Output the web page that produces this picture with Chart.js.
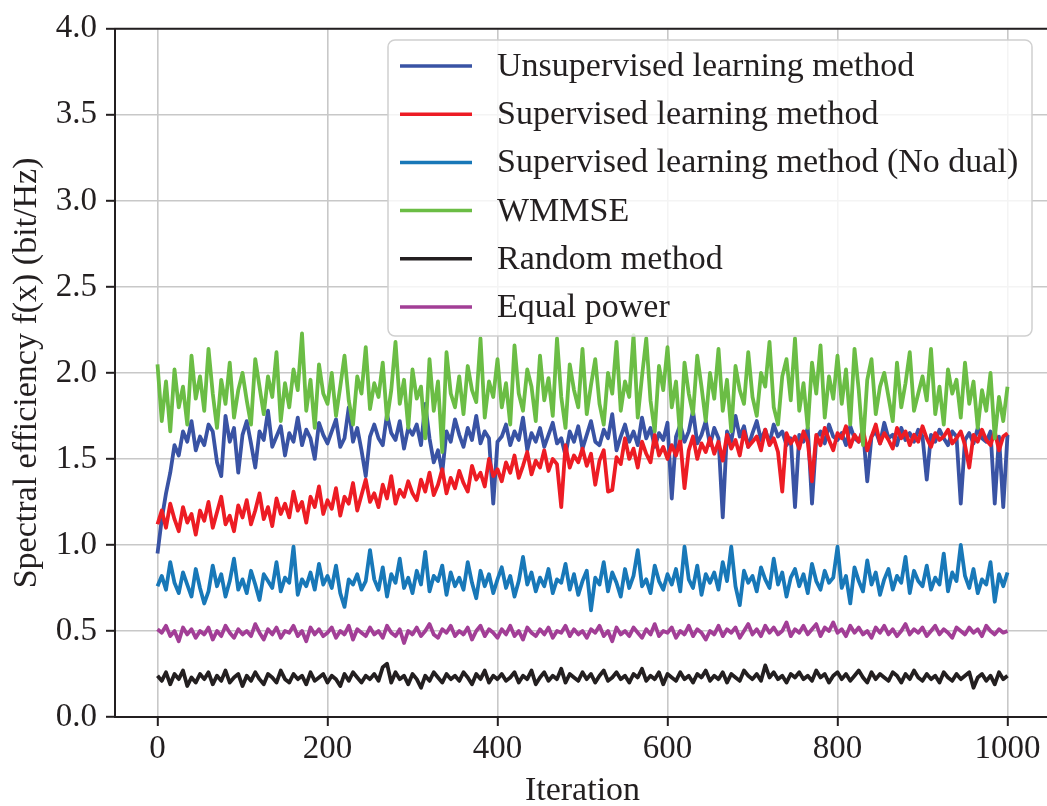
<!DOCTYPE html>
<html>
<head>
<meta charset="utf-8">
<script src="https://cdn.jsdelivr.net/npm/chart.js@4.4.0/dist/chart.umd.min.js"></script>
<style>
  html, body { margin: 0; padding: 0; background: #fff; overflow: hidden; }
  #wrap { width: 1050px; height: 806px; }
</style>
</head>
<body>
<div id="wrap"><canvas id="chart" width="1050" height="806"></canvas></div>
<script>
// sample spacing of the curves (iterations between points)
const step = 5;

const xTicks = [0, 200, 400, 600, 800, 1000];
const yTicks = [0, 0.5, 1, 1.5, 2, 2.5, 3, 3.5, 4];

const seriesNames = [
    'Unsupervised learning method',
    'Supervised learning method',
    'Supervised learning method (No dual)',
    'WMMSE',
    'Random method',
    'Equal power'
];

const seriesColors = ['#3953a4', '#ed1c24', '#1878b8', '#6bbd45', '#231f20', '#a23e96'];

const unsupervised = [
    0.95,1.15,1.30,1.42,1.58,1.52,1.66,1.60,1.72,1.55,1.63,
    1.58,1.70,1.66,1.48,1.40,1.75,1.60,1.68,1.42,1.64,
    1.72,1.59,1.45,1.66,1.61,1.78,1.57,1.63,1.69,1.52,
    1.65,1.60,1.74,1.58,1.67,1.62,1.50,1.71,1.64,1.59,
    1.66,1.73,1.57,1.62,1.80,1.60,1.68,1.55,1.40,1.63,
    1.70,1.62,1.58,1.76,1.65,1.61,1.72,1.56,1.68,1.64,
    1.70,1.58,1.82,1.62,1.48,1.55,1.42,1.66,1.60,1.73,
    1.64,1.57,1.68,1.61,1.75,1.59,1.66,1.62,1.24,1.60,
    1.63,1.70,1.58,1.66,1.61,1.74,1.55,1.65,1.60,1.68,
    1.57,1.64,1.71,1.59,1.62,1.52,1.66,1.60,1.69,1.56,
    1.64,1.72,1.60,1.58,1.67,1.62,1.76,1.55,1.63,1.70,
    1.60,1.66,1.58,1.74,1.62,1.68,1.57,1.65,1.61,1.71,
    1.27,1.63,1.70,1.60,1.66,1.78,1.59,1.64,1.72,1.58,
    1.68,1.62,1.16,1.66,1.60,1.75,1.63,1.69,1.57,1.65,
    1.72,1.61,1.67,1.59,1.70,1.63,1.66,1.58,1.62,1.22,
    1.64,1.60,1.68,1.24,1.62,1.66,1.59,1.70,1.63,1.61,
    1.65,1.58,1.69,1.62,1.60,1.67,1.37,1.63,1.66,1.59,
    1.71,1.62,1.64,1.58,1.68,1.61,1.65,1.60,1.67,1.63,
    1.38,1.64,1.60,1.67,1.62,1.58,1.66,1.63,1.24,1.61,
    1.65,1.59,1.68,1.62,1.60,1.66,1.24,1.63,1.22,1.64
];

const supervised = [
    1.12,1.20,1.10,1.24,1.15,1.08,1.22,1.13,1.18,1.06,1.20,
    1.14,1.25,1.10,1.19,1.28,1.12,1.17,1.08,1.23,1.16,
    1.26,1.12,1.20,1.30,1.15,1.22,1.11,1.27,1.18,1.24,
    1.16,1.31,1.20,1.25,1.13,1.28,1.22,1.34,1.18,1.26,
    1.21,1.33,1.17,1.28,1.24,1.36,1.20,1.29,1.38,1.25,
    1.30,1.22,1.35,1.27,1.40,1.24,1.32,1.28,1.37,1.30,
    1.26,1.38,1.31,1.42,1.29,1.35,1.44,1.30,1.39,1.33,
    1.43,1.36,1.31,1.46,1.38,1.42,1.34,1.50,1.40,1.44,
    1.37,1.48,1.42,1.52,1.39,1.46,1.54,1.41,1.49,1.45,
    1.55,1.43,1.50,1.47,1.22,1.58,1.45,1.52,1.48,1.56,
    1.46,1.53,1.35,1.49,1.55,1.31,1.32,1.51,1.47,1.62,
    1.50,1.56,1.45,1.60,1.53,1.48,1.64,1.52,1.57,1.50,
    1.58,1.52,1.61,1.33,1.55,1.63,1.50,1.59,1.54,1.62,
    1.53,1.60,1.49,1.64,1.56,1.61,1.52,1.66,1.57,1.60,
    1.63,1.55,1.67,1.58,1.62,1.54,1.31,1.65,1.59,1.63,
    1.56,1.66,1.60,1.37,1.64,1.58,1.68,1.61,1.55,1.65,
    1.62,1.69,1.57,1.64,1.60,1.67,1.55,1.63,1.70,1.59,
    1.65,1.61,1.56,1.68,1.62,1.66,1.58,1.64,1.60,1.69,
    1.62,1.57,1.65,1.61,1.63,1.67,1.59,1.62,1.66,1.58,
    1.45,1.64,1.60,1.67,1.61,1.58,1.66,1.55,1.63,1.65
];

const noDual = [
    0.76,0.82,0.74,0.90,0.78,0.72,0.84,0.77,0.70,0.86,0.75,
    0.66,0.73,0.88,0.76,0.83,0.70,0.79,0.92,0.74,0.80,
    0.72,0.85,0.77,0.68,0.83,0.79,0.75,0.90,0.73,0.81,
    0.78,0.99,0.71,0.80,0.76,0.84,0.74,0.89,0.77,0.82,
    0.75,0.88,0.72,0.64,0.80,0.77,0.83,0.74,0.79,0.97,
    0.80,0.74,0.87,0.70,0.83,0.78,0.92,0.75,0.81,0.72,
    0.85,0.77,0.96,0.73,0.82,0.79,0.88,0.71,0.84,0.76,
    0.81,0.74,0.90,0.78,0.69,0.85,0.76,0.83,0.72,0.80,
    0.87,0.75,0.82,0.70,0.79,0.93,0.77,0.84,0.73,0.81,
    0.76,0.86,0.72,0.80,0.78,0.89,0.74,0.83,0.71,0.79,
    0.85,0.62,0.81,0.77,0.90,0.73,0.84,0.78,0.70,0.86,
    0.75,0.82,0.97,0.76,0.80,0.72,0.88,0.79,0.74,0.83,
    0.77,0.86,0.73,0.99,0.80,0.75,0.88,0.71,0.83,0.78,
    0.84,0.74,0.90,0.79,0.99,0.76,0.65,0.85,0.78,0.82,
    0.73,0.87,0.80,0.75,0.92,0.77,0.84,0.70,0.81,0.86,
    0.76,0.83,0.72,0.89,0.79,0.74,0.85,0.78,0.81,0.99,
    0.75,0.82,0.66,0.87,0.79,0.73,0.91,0.77,0.84,0.71,
    0.80,0.86,0.74,0.82,0.78,0.93,0.72,0.85,0.79,0.76,
    0.88,0.74,0.81,0.77,0.95,0.73,0.84,0.79,1.00,0.82,
    0.75,0.86,0.72,0.80,0.77,0.90,0.67,0.83,0.76,0.84
];

const wmmse = [
    2.05,1.72,1.95,1.66,2.02,1.80,1.92,1.70,2.10,1.85,1.98,
    1.78,2.14,1.88,1.68,1.96,1.82,2.06,1.74,1.90,2.00,
    1.84,1.70,2.08,1.92,1.76,1.98,1.86,2.12,1.72,1.94,
    1.80,2.02,1.90,2.23,1.78,1.96,1.68,2.05,1.88,1.82,
    2.00,1.75,1.92,2.10,1.84,1.70,1.98,1.88,2.15,1.79,
    1.94,1.86,2.06,1.73,1.90,2.18,1.82,1.96,1.68,2.02,
    1.85,1.92,1.62,2.08,1.78,1.95,1.54,2.12,1.88,1.80,
    1.98,1.76,2.04,1.90,1.83,2.20,1.74,1.95,1.86,2.08,
    1.80,1.94,1.70,2.16,1.88,1.78,2.02,1.92,1.72,2.10,
    1.84,1.97,1.75,2.20,1.86,1.68,2.05,1.90,1.80,2.14,
    1.76,1.93,2.08,1.82,1.70,2.00,1.88,2.18,1.78,1.95,
    1.86,2.22,1.74,1.98,2.20,1.84,1.66,2.04,1.90,2.15,
    1.80,1.95,1.62,2.06,1.88,1.76,2.10,1.92,1.72,2.00,
    1.85,2.14,1.78,1.96,1.66,2.04,1.90,1.82,2.12,1.86,
    1.75,2.00,1.92,2.18,1.80,1.70,1.98,2.08,1.84,2.20,
    1.78,1.94,1.68,2.06,1.88,2.16,1.74,1.98,1.85,2.10,
    1.82,2.02,1.70,2.14,1.90,1.58,1.96,2.08,1.76,1.92,
    2.00,1.86,1.72,2.06,1.80,1.94,2.12,1.78,1.88,1.98,
    1.84,2.14,1.76,1.92,1.70,2.02,1.88,1.96,1.74,2.06,
    1.82,1.95,1.68,1.90,1.78,2.00,1.62,1.86,1.72,1.92
];

const randomMethod = [
    0.24,0.21,0.26,0.19,0.25,0.22,0.27,0.18,0.23,0.20,0.25,
    0.22,0.26,0.19,0.24,0.21,0.27,0.20,0.23,0.25,0.18,
    0.24,0.21,0.26,0.22,0.19,0.25,0.23,0.20,0.27,0.22,
    0.20,0.25,0.22,0.24,0.19,0.26,0.21,0.23,0.25,0.20,
    0.24,0.22,0.18,0.25,0.21,0.26,0.23,0.20,0.24,0.22,
    0.25,0.21,0.29,0.31,0.20,0.26,0.22,0.24,0.19,0.25,
    0.22,0.17,0.24,0.21,0.26,0.23,0.20,0.25,0.22,0.24,
    0.21,0.26,0.23,0.19,0.25,0.22,0.27,0.20,0.24,0.22,
    0.25,0.21,0.23,0.26,0.20,0.24,0.22,0.27,0.19,0.23,
    0.26,0.21,0.24,0.22,0.28,0.20,0.25,0.23,0.21,0.26,
    0.22,0.25,0.20,0.24,0.27,0.21,0.23,0.26,0.22,0.24,
    0.20,0.25,0.23,0.28,0.21,0.24,0.22,0.26,0.19,0.25,
    0.23,0.21,0.26,0.22,0.24,0.20,0.25,0.23,0.27,0.21,
    0.24,0.22,0.26,0.20,0.25,0.23,0.21,0.27,0.24,0.22,
    0.25,0.21,0.30,0.23,0.26,0.22,0.24,0.20,0.25,0.23,
    0.26,0.22,0.24,0.21,0.27,0.23,0.25,0.20,0.24,0.26,
    0.22,0.25,0.21,0.24,0.27,0.23,0.20,0.26,0.22,0.25,
    0.23,0.21,0.26,0.24,0.20,0.25,0.22,0.27,0.23,0.21,
    0.25,0.22,0.24,0.20,0.26,0.23,0.21,0.25,0.22,0.24,
    0.26,0.17,0.23,0.25,0.21,0.24,0.19,0.26,0.22,0.24
];

const equalPower = [
    0.51,0.49,0.53,0.47,0.50,0.44,0.52,0.48,0.51,0.46,0.50,
    0.48,0.52,0.45,0.50,0.47,0.53,0.49,0.46,0.51,0.48,
    0.50,0.47,0.54,0.49,0.45,0.51,0.48,0.52,0.46,0.50,
    0.49,0.53,0.47,0.50,0.44,0.52,0.48,0.51,0.47,0.49,
    0.52,0.46,0.50,0.48,0.53,0.45,0.51,0.49,0.47,0.52,
    0.48,0.50,0.46,0.53,0.49,0.47,0.51,0.43,0.50,0.48,
    0.52,0.47,0.50,0.54,0.48,0.46,0.51,0.49,0.53,0.47,
    0.50,0.48,0.52,0.45,0.50,0.53,0.47,0.51,0.49,0.46,
    0.51,0.48,0.53,0.47,0.50,0.45,0.52,0.49,0.47,0.51,
    0.48,0.52,0.46,0.50,0.49,0.53,0.47,0.51,0.48,0.50,
    0.46,0.51,0.49,0.53,0.47,0.50,0.44,0.52,0.48,0.50,
    0.47,0.52,0.49,0.46,0.51,0.48,0.54,0.47,0.50,0.49,
    0.52,0.46,0.50,0.48,0.53,0.47,0.51,0.49,0.45,0.50,
    0.48,0.53,0.47,0.51,0.49,0.52,0.46,0.50,0.54,0.48,
    0.51,0.47,0.53,0.49,0.52,0.48,0.50,0.55,0.47,0.51,
    0.49,0.53,0.48,0.51,0.54,0.47,0.52,0.50,0.55,0.49,
    0.51,0.47,0.53,0.49,0.52,0.48,0.50,0.46,0.52,0.49,
    0.53,0.48,0.51,0.47,0.50,0.54,0.48,0.51,0.49,0.52,
    0.47,0.50,0.53,0.48,0.51,0.49,0.46,0.52,0.50,0.48,
    0.52,0.49,0.51,0.47,0.53,0.50,0.48,0.51,0.49,0.50
];

const seriesValues = [unsupervised, supervised, noDual, wmmse, randomMethod, equalPower];

const FONT = "'Liberation Serif', 'Times New Roman', serif";
const INK = '#231f20';

// Turn a value list into {x, y} points along the iteration axis
function toPoints(values) {
    return values.map((v, i) => ({ x: i * step, y: v }));
}

// Matplotlib-like framed legend plus the top spine
const boxLegend = {
    id: 'boxLegend',
    afterDatasetsDraw(chart) {
        const ctx = chart.ctx;
        const area = chart.chartArea;
        ctx.save();

        // top spine
        ctx.strokeStyle = INK;
        ctx.lineWidth = 2;
        ctx.beginPath();
        ctx.moveTo(area.left - 1, area.top);
        ctx.lineTo(area.right, area.top);
        ctx.stroke();

        // legend frame
        const bx = 388, by = 40, bw = 644, bh = 296, r = 7;
        ctx.beginPath();
        ctx.moveTo(bx + r, by);
        ctx.arcTo(bx + bw, by, bx + bw, by + bh, r);
        ctx.arcTo(bx + bw, by + bh, bx, by + bh, r);
        ctx.arcTo(bx, by + bh, bx, by, r);
        ctx.arcTo(bx, by, bx + bw, by, r);
        ctx.closePath();
        ctx.fillStyle = 'rgba(255,255,255,0.8)';
        ctx.fill();
        ctx.strokeStyle = '#d0d0d0';
        ctx.lineWidth = 1.5;
        ctx.stroke();

        ctx.font = '34px ' + FONT;
        ctx.textBaseline = 'middle';
        ctx.textAlign = 'left';
        chart.data.datasets.forEach((ds, i) => {
            const y = 66 + i * 48.2;
            ctx.strokeStyle = ds.borderColor;
            ctx.lineWidth = 3.5;
            ctx.beginPath();
            ctx.moveTo(400, y);
            ctx.lineTo(472, y);
            ctx.stroke();
            ctx.fillStyle = INK;
            ctx.fillText(ds.label, 497, y + 1);
        });
        ctx.restore();
    }
};

document.addEventListener('DOMContentLoaded', function() {
    const ctx = document.querySelector('#chart').getContext('2d');

    // later series are drawn on top, as in the original plot
    const datasets = seriesNames.map((name, i) => ({
        label: name,
        data: toPoints(seriesValues[i]),
        borderColor: seriesColors[i],
        backgroundColor: seriesColors[i],
        borderWidth: 3.8,
        borderJoinStyle: 'round',
        pointRadius: 0,
        tension: 0,
        fill: false,
        order: seriesNames.length - i
    }));

    new Chart(ctx, {
        type: 'line',
        data: { datasets: datasets },
        plugins: [boxLegend],
        options: {
            responsive: false,
            animation: false,
            devicePixelRatio: 1,
            layout: { padding: { top: 22, left: 0, right: 0, bottom: 0 } },
            plugins: {
                legend: { display: false },
                tooltip: { enabled: false }
            },
            scales: {
                x: {
                    type: 'linear',
                    min: -50,
                    max: 1050,
                    afterFit: scale => { scale.height = 89; },
                    afterBuildTicks: scale => { scale.ticks = xTicks.map(v => ({ value: v })); },
                    grid: { color: '#c8c8c8', lineWidth: 1.6, tickColor: INK, tickLength: 9, tickWidth: 2 },
                    border: { color: INK, width: 2 },
                    ticks: {
                        color: INK,
                        font: { family: FONT, size: 33 },
                        padding: 4,
                        maxRotation: 0,
                        callback: v => String(v)
                    },
                    title: {
                        display: true,
                        text: 'Iteration',
                        color: INK,
                        font: { family: FONT, size: 34, lineHeight: 0.85 },
                        padding: { top: 0, bottom: 0 }
                    }
                },
                y: {
                    min: 0,
                    max: 4,
                    afterFit: scale => { scale.width = 115; },
                    afterBuildTicks: scale => { scale.ticks = yTicks.map(v => ({ value: v })); },
                    grid: { color: '#c8c8c8', lineWidth: 1.6, tickColor: INK, tickLength: 9, tickWidth: 2 },
                    border: { color: INK, width: 2 },
                    ticks: {
                        color: INK,
                        font: { family: FONT, size: 33 },
                        padding: 9,
                        callback: v => v.toFixed(1)
                    },
                    title: {
                        display: true,
                        text: 'Spectral efficiency f(x) (bit/Hz)',
                        color: INK,
                        font: { family: FONT, size: 34, lineHeight: 1 },
                        padding: { top: 10, bottom: 0 }
                    }
                }
            }
        }
    });
});
</script>
</body>
</html>
